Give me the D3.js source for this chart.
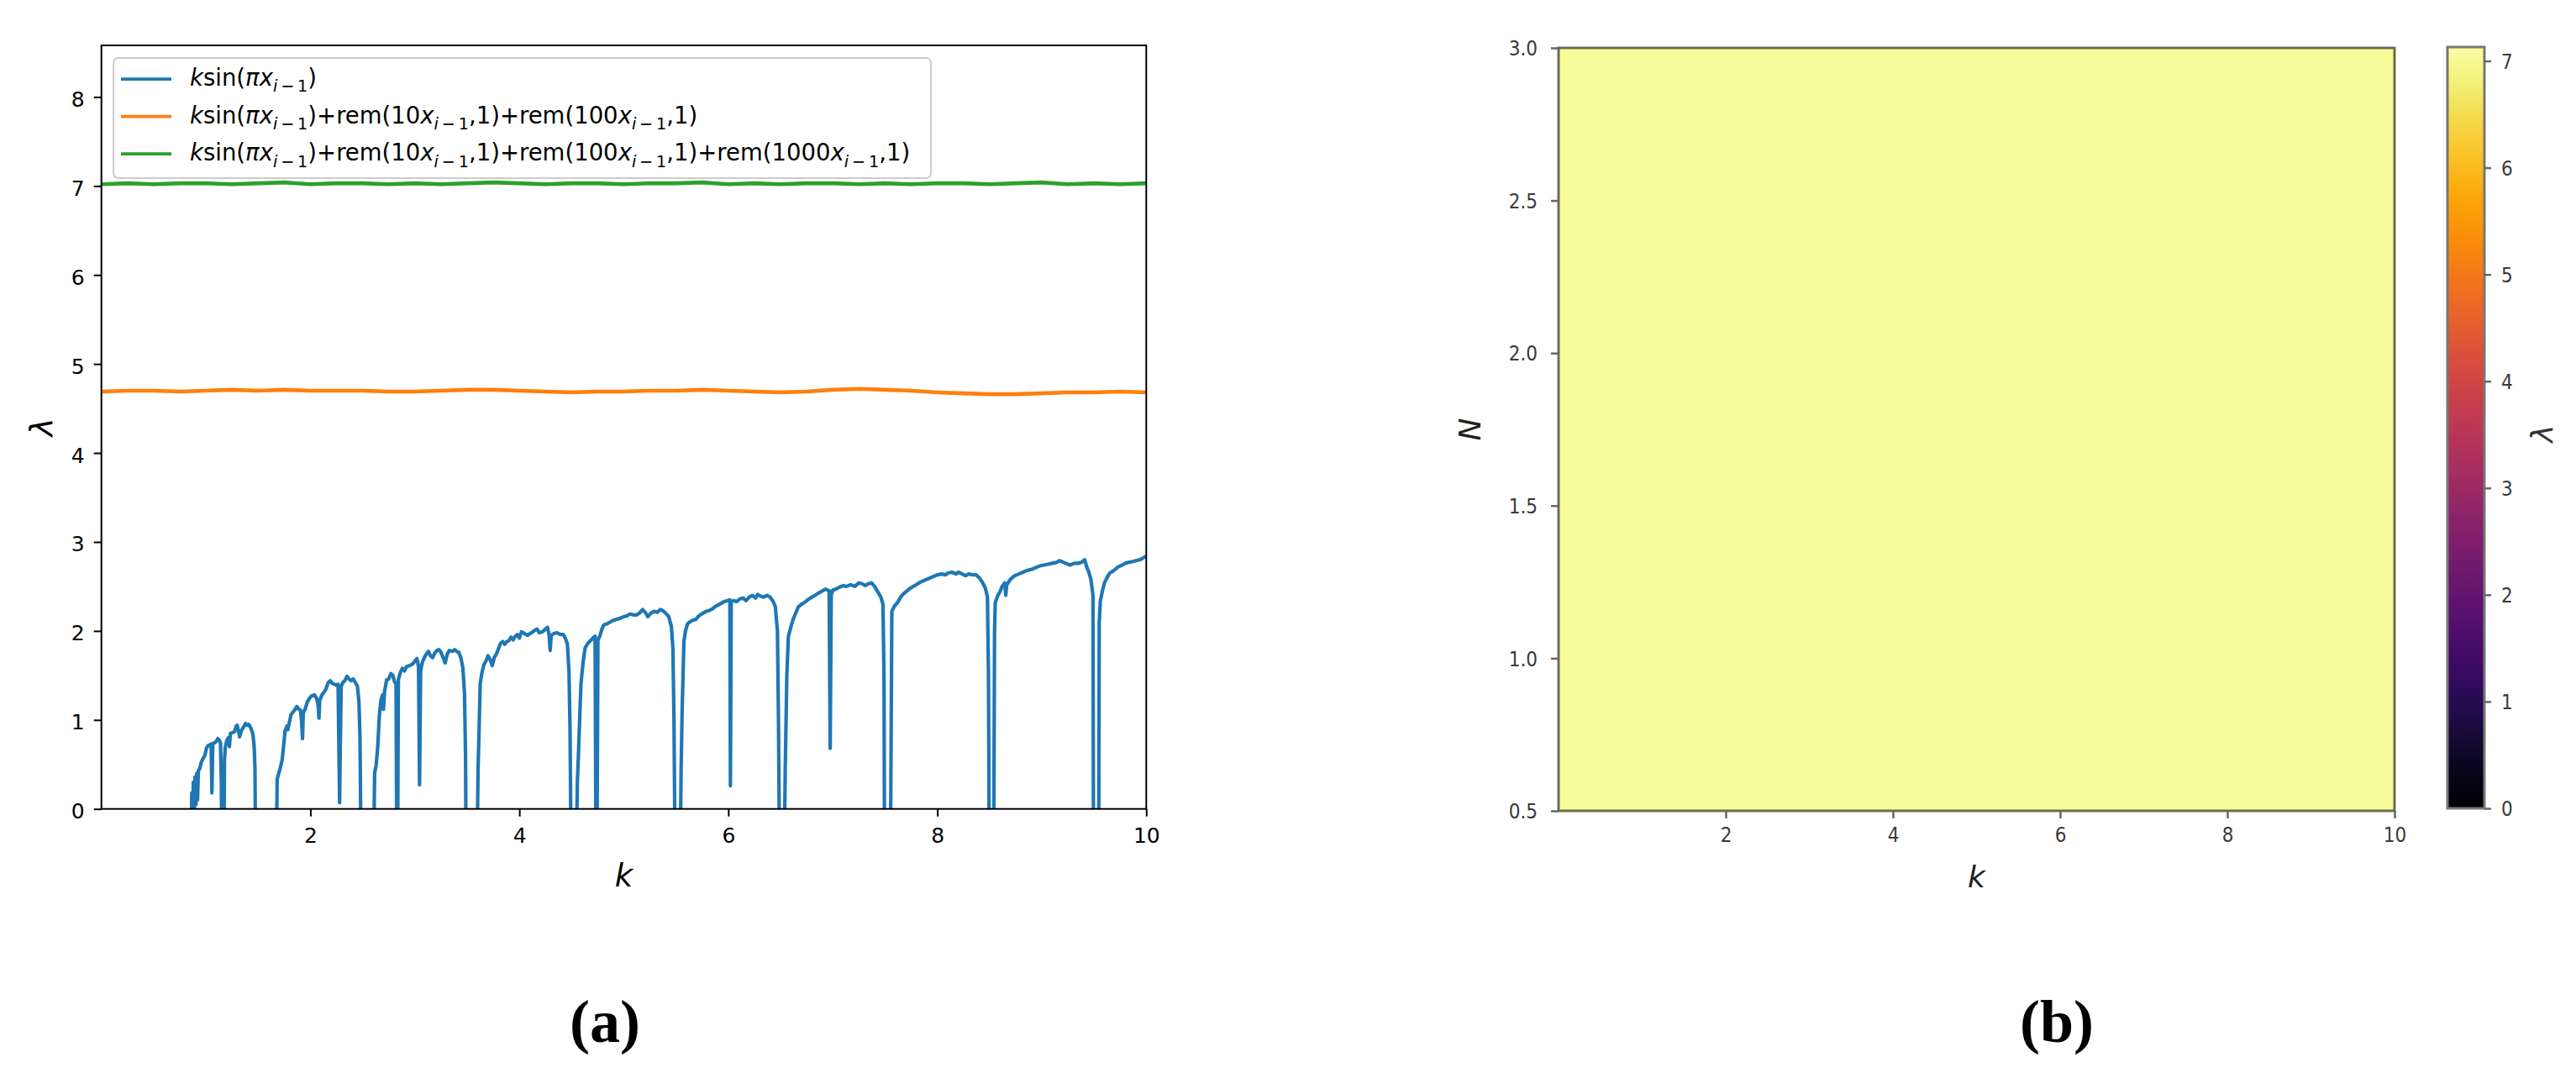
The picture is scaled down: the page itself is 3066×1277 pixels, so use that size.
<!DOCTYPE html>
<html><head><meta charset="utf-8">
<script src="https://cdn.jsdelivr.net/npm/d3@7"></script>
<style>body{margin:0;background:#fff} svg{display:block}</style>
</head><body>
<script>
// ---------------- data ----------------
const xTicksA = [2, 4, 6, 8, 10];
const yTicksA = [0, 1, 2, 3, 4, 5, 6, 7, 8];
const seriesNames = [
  "ksin(πx_{i−1})",
  "ksin(πx_{i−1})+rem(10x_{i−1},1)+rem(100x_{i−1},1)",
  "ksin(πx_{i−1})+rem(10x_{i−1},1)+rem(100x_{i−1},1)+rem(1000x_{i−1},1)"
];
const seriesColors = ["#1f77b4", "#ff7f0e", "#2ca02c"];

// blue series: [k, lambda]; negative values lie below the axis (clipped)
const blueSeries = [
  [0.01,-1.5],[0.86,-0.3],
  [0.865,0.18],[0.872,-0.2],[0.88,0.30],[0.888,-0.2],[0.895,0.36],[0.905,0.05],[0.912,0.40],[0.92,0.1],[0.928,0.43],[0.94,0.45],[0.955,0.52],[0.97,0.56],[0.99,0.60],[1.005,0.68],[1.02,0.71],[1.04,0.72],[1.05,0.73],[1.058,0.18],[1.066,0.73],[1.08,0.74],[1.10,0.76],[1.115,0.79],[1.13,0.77],[1.14,0.74],[1.148,0.3],[1.152,-0.5],[1.172,-0.5],[1.178,0.55],[1.185,0.69],[1.20,0.77],[1.215,0.80],[1.225,0.70],[1.235,0.85],[1.26,0.86],[1.275,0.87],[1.29,0.93],[1.30,0.94],[1.315,0.86],[1.322,0.81],[1.34,0.88],[1.36,0.92],[1.38,0.96],[1.395,0.94],[1.41,0.95],[1.43,0.91],[1.45,0.84],[1.462,0.70],[1.47,0.45],[1.475,-0.5],
  [1.675,-0.5],[1.682,0.33],[1.69,0.37],[1.71,0.45],[1.73,0.55],[1.745,0.72],[1.757,0.87],[1.775,0.93],[1.785,0.89],[1.80,0.98],[1.815,1.06],[1.835,1.09],[1.855,1.12],[1.87,1.15],[1.89,1.12],[1.905,1.11],[1.915,1.0],[1.925,0.79],[1.932,1.08],[1.95,1.12],[1.97,1.20],[1.99,1.24],[2.01,1.27],[2.04,1.28],[2.06,1.24],[2.075,1.16],[2.082,1.02],[2.09,1.22],[2.11,1.28],[2.13,1.31],[2.15,1.35],[2.17,1.42],[2.19,1.44],[2.21,1.41],[2.23,1.40],[2.25,1.39],[2.265,1.40],[2.275,0.5],[2.28,0.07],[2.285,0.6],[2.295,1.38],[2.31,1.42],[2.33,1.44],[2.35,1.49],[2.37,1.46],[2.39,1.44],[2.41,1.46],[2.43,1.42],[2.45,1.38],[2.465,1.2],[2.475,0.8],[2.485,-0.5],
  [2.605,-0.5],[2.615,0.40],[2.63,0.50],[2.645,0.70],[2.66,1.05],[2.675,1.22],[2.69,1.28],[2.70,1.12],[2.71,1.32],[2.73,1.45],[2.75,1.46],[2.77,1.52],[2.79,1.50],[2.805,1.43],[2.82,1.40],[2.827,-0.5],[2.835,-0.5],[2.842,1.45],[2.86,1.53],[2.88,1.58],[2.90,1.55],[2.92,1.60],[2.95,1.61],[2.98,1.63],[3.00,1.66],[3.02,1.69],[3.035,1.6],[3.045,0.27],[3.055,1.55],[3.07,1.64],[3.09,1.70],[3.11,1.74],[3.13,1.77],[3.15,1.72],[3.17,1.70],[3.19,1.75],[3.21,1.78],[3.23,1.79],[3.25,1.76],[3.27,1.70],[3.29,1.64],[3.31,1.74],[3.33,1.78],[3.36,1.77],[3.38,1.79],[3.40,1.77],[3.42,1.76],[3.44,1.70],[3.46,1.58],[3.475,1.3],[3.485,0.6],[3.49,-0.5],
  [3.595,-0.5],[3.605,0.45],[3.615,0.9],[3.625,1.40],[3.64,1.52],[3.66,1.62],[3.68,1.66],[3.70,1.72],[3.72,1.68],[3.74,1.61],[3.76,1.70],[3.78,1.74],[3.80,1.80],[3.82,1.86],[3.84,1.88],[3.86,1.85],[3.88,1.88],[3.90,1.89],[3.92,1.93],[3.94,1.90],[3.96,1.94],[3.98,1.96],[4.00,1.92],[4.02,1.99],[4.05,1.97],[4.08,1.95],[4.10,1.97],[4.13,1.99],[4.15,2.01],[4.17,2.02],[4.19,1.98],[4.22,1.99],[4.24,2.01],[4.27,2.04],[4.285,1.95],[4.295,1.78],[4.305,1.95],[4.33,1.97],[4.36,1.98],[4.39,1.96],[4.42,1.96],[4.44,1.92],[4.46,1.85],[4.475,1.55],[4.485,0.9],[4.495,-0.5],
  [4.545,-0.5],[4.555,0.3],[4.565,0.59],[4.58,1.1],[4.59,1.41],[4.61,1.65],[4.63,1.81],[4.65,1.85],[4.67,1.88],[4.69,1.90],[4.71,1.93],[4.725,1.94],[4.733,-0.5],[4.743,-0.5],[4.752,1.90],[4.77,1.94],[4.79,2.02],[4.81,2.07],[4.84,2.08],[4.87,2.10],[4.90,2.12],[4.93,2.13],[4.96,2.14],[5.00,2.16],[5.03,2.17],[5.06,2.19],[5.09,2.18],[5.12,2.18],[5.15,2.20],[5.18,2.24],[5.21,2.20],[5.23,2.16],[5.26,2.20],[5.29,2.22],[5.32,2.21],[5.35,2.24],[5.37,2.23],[5.40,2.20],[5.43,2.16],[5.455,2.05],[5.47,1.8],[5.48,1.0],[5.49,-0.5],
  [5.54,-0.5],[5.548,0.43],[5.558,1.1],[5.575,1.88],[5.59,2.00],[5.61,2.08],[5.63,2.10],[5.66,2.12],[5.69,2.13],[5.71,2.16],[5.73,2.18],[5.76,2.20],[5.79,2.22],[5.82,2.23],[5.85,2.25],[5.87,2.27],[5.90,2.29],[5.93,2.31],[5.96,2.33],[5.99,2.34],[6.015,2.35],[6.02,0.26],[6.028,2.33],[6.05,2.34],[6.08,2.33],[6.11,2.36],[6.14,2.37],[6.17,2.34],[6.20,2.38],[6.23,2.40],[6.26,2.37],[6.28,2.41],[6.31,2.39],[6.34,2.38],[6.37,2.40],[6.40,2.38],[6.43,2.33],[6.45,2.27],[6.47,2.0],[6.48,1.0],[6.49,-0.5],
  [6.535,-0.5],[6.545,0.46],[6.56,1.5],[6.575,1.94],[6.60,2.05],[6.62,2.13],[6.645,2.20],[6.67,2.27],[6.70,2.30],[6.73,2.32],[6.76,2.35],[6.80,2.38],[6.83,2.40],[6.87,2.43],[6.90,2.45],[6.93,2.47],[6.965,2.45],[6.975,0.68],[6.985,2.40],[7.00,2.46],[7.03,2.47],[7.06,2.49],[7.10,2.51],[7.13,2.50],[7.17,2.52],[7.21,2.50],[7.25,2.54],[7.28,2.53],[7.31,2.51],[7.34,2.53],[7.37,2.54],[7.40,2.50],[7.43,2.44],[7.46,2.38],[7.48,2.30],[7.49,1.5],[7.495,-0.5],
  [7.545,-0.5],[7.555,0.1],[7.565,2.22],[7.59,2.28],[7.62,2.32],[7.65,2.38],[7.67,2.41],[7.70,2.44],[7.73,2.47],[7.77,2.50],[7.80,2.52],[7.84,2.55],[7.88,2.57],[7.92,2.59],[7.96,2.61],[8.00,2.63],[8.04,2.64],[8.08,2.63],[8.10,2.65],[8.14,2.66],[8.18,2.64],[8.20,2.66],[8.24,2.64],[8.27,2.62],[8.30,2.64],[8.34,2.63],[8.37,2.63],[8.40,2.60],[8.43,2.55],[8.46,2.48],[8.48,2.38],[8.49,1.5],[8.497,-0.5],
  [8.54,-0.5],[8.548,2.0],[8.555,2.32],[8.58,2.40],[8.60,2.44],[8.62,2.50],[8.645,2.54],[8.655,2.40],[8.665,2.52],[8.70,2.58],[8.74,2.62],[8.78,2.64],[8.82,2.66],[8.86,2.68],[8.90,2.69],[8.94,2.71],[8.98,2.73],[9.02,2.74],[9.06,2.75],[9.10,2.76],[9.14,2.77],[9.17,2.79],[9.21,2.77],[9.25,2.75],[9.27,2.74],[9.31,2.76],[9.35,2.76],[9.38,2.77],[9.41,2.80],[9.43,2.72],[9.45,2.66],[9.47,2.58],[9.49,2.4],[9.495,-0.5],
  [9.545,-0.5],[9.55,2.1],[9.56,2.33],[9.58,2.45],[9.60,2.54],[9.625,2.60],[9.65,2.65],[9.68,2.67],[9.70,2.69],[9.73,2.72],[9.77,2.74],[9.80,2.76],[9.83,2.77],[9.87,2.78],[9.90,2.79],[9.94,2.80],[9.97,2.82],[10.0,2.84]
];

const lineK = [0,0.25,0.5,0.75,1,1.25,1.5,1.75,2,2.25,2.5,2.75,3,3.25,3.5,3.75,4,4.25,4.5,4.75,5,5.25,5.5,5.75,6,6.25,6.5,6.75,7,7.25,7.5,7.75,8,8.25,8.5,8.75,9,9.25,9.5,9.75,10];
const orangeL = [4.69,4.70,4.70,4.69,4.70,4.71,4.70,4.71,4.70,4.70,4.70,4.69,4.69,4.70,4.71,4.71,4.70,4.69,4.68,4.69,4.69,4.70,4.70,4.71,4.70,4.69,4.68,4.69,4.71,4.72,4.71,4.70,4.68,4.67,4.66,4.66,4.67,4.68,4.68,4.69,4.68];
const greenL  = [7.02,7.03,7.02,7.03,7.03,7.02,7.03,7.04,7.02,7.03,7.03,7.02,7.03,7.02,7.03,7.04,7.03,7.02,7.03,7.03,7.02,7.03,7.03,7.04,7.02,7.03,7.02,7.03,7.03,7.02,7.03,7.02,7.03,7.03,7.02,7.03,7.04,7.02,7.03,7.02,7.03];

const heatKEdges = [0,1,2,3,4,5,6,7,8,9,10];
const heatNEdges = [0.5,1.0,1.5,2.0,2.5,3.0];
const heatValues = [
  [7.02,7.03,7.02,7.03,7.02,7.03,7.02,7.03,7.03,7.02],
  [7.03,7.02,7.03,7.02,7.03,7.02,7.03,7.02,7.02,7.03],
  [7.02,7.03,7.03,7.02,7.02,7.03,7.02,7.03,7.03,7.02],
  [7.03,7.02,7.02,7.03,7.03,7.02,7.03,7.02,7.02,7.03],
  [7.02,7.03,7.03,7.02,7.03,7.02,7.02,7.03,7.03,7.02]
];
const xTicksB = [2, 4, 6, 8, 10];
const yTicksB = [0.5, 1.0, 1.5, 2.0, 2.5, 3.0];
const cbarTicks = [0, 1, 2, 3, 4, 5, 6, 7];
const captions = ["(a)", "(b)"];

// ---------------- drawing ----------------
const W = 3066, H = 1277;
const svg = d3.select("body").append("svg").attr("width", W).attr("height", H)
  .style("font-family", "'DejaVu Sans', sans-serif");
svg.append("rect").attr("width", W).attr("height", H).attr("fill", "#fff");

// ---- panel (a) ----
const xA = d3.scaleLinear().domain([0, 10]).range([120.7, 1364.3]);
const yA = d3.scaleLinear().domain([0, 8.58]).range([962.7, 54]);
const gA = svg.append("g");
const defs = svg.append("defs");
defs.append("clipPath").attr("id", "clipA").append("rect")
  .attr("x", xA(0)).attr("y", yA(8.58)).attr("width", xA(10) - xA(0)).attr("height", yA(0) - yA(8.58));

const line = d3.line().x(d => xA(d[0])).y(d => yA(d[1]));
const lines = gA.append("g").attr("clip-path", "url(#clipA)");
lines.append("path").datum(blueSeries).attr("d", line)
  .attr("fill", "none").attr("stroke", seriesColors[0]).attr("stroke-width", 4.2).attr("stroke-linejoin", "round");
lines.append("path").datum(lineK.map((k, i) => [k, orangeL[i]])).attr("d", line)
  .attr("fill", "none").attr("stroke", seriesColors[1]).attr("stroke-width", 4.6).attr("stroke-linejoin", "round");
lines.append("path").datum(lineK.map((k, i) => [k, greenL[i]])).attr("d", line)
  .attr("fill", "none").attr("stroke", seriesColors[2]).attr("stroke-width", 4.6).attr("stroke-linejoin", "round");

// axes
const axBA = gA.append("g").attr("transform", `translate(0,${yA(0)})`)
  .call(d3.axisBottom(xA).tickValues(xTicksA).tickSize(9).tickSizeOuter(0).tickPadding(12).tickFormat(d3.format("d")));
const axLA = gA.append("g").attr("transform", `translate(${xA(0)},0)`)
  .call(d3.axisLeft(yA).tickValues(yTicksA).tickSize(9).tickSizeOuter(0).tickPadding(11).tickFormat(d3.format("d")));
[axBA, axLA].forEach(a => {
  a.select(".domain").remove();
  a.selectAll("line").attr("stroke", "#000").attr("stroke-width", 2);
  a.selectAll("text").attr("font-size", 25).attr("fill", "#000").attr("font-family", "'DejaVu Sans', sans-serif");
});
axLA.selectAll("text").attr("dy", "0.44em");
axBA.selectAll("text").attr("dy", "0.76em");
gA.append("rect").attr("x", xA(0)).attr("y", yA(8.58)).attr("width", xA(10) - xA(0)).attr("height", yA(0) - yA(8.58))
  .attr("fill", "none").attr("stroke", "#000").attr("stroke-width", 2);

gA.append("text").attr("x", (xA(0) + xA(10)) / 2).attr("y", 1055).attr("text-anchor", "middle")
  .attr("font-size", 37).attr("font-style", "italic").text("k");
gA.append("text").attr("transform", `translate(62,${(yA(0) + yA(8.58)) / 2}) rotate(-90)`).attr("text-anchor", "middle")
  .attr("font-size", 37).attr("font-style", "italic").text("λ");

// math-ish text renderer
function mathText(parent, str, x, y, size) {
  const t = parent.append("text").attr("x", x).attr("y", y).attr("font-size", size).attr("fill", "#000");
  let pendingDy = 0;
  const add = (txt, italic, fs) => {
    const s = t.append("tspan").text(txt);
    if (italic) s.attr("font-style", "italic");
    if (fs) s.attr("font-size", fs);
    if (pendingDy) { s.attr("dy", pendingDy); pendingDy = 0; }
    return s;
  };
  let i = 0, buf = "", bufIt = null;
  const flush = () => { if (buf) add(buf, bufIt); buf = ""; };
  while (i < str.length) {
    if (str.startsWith("_{", i)) {
      flush();
      const end = str.indexOf("}", i);
      const sub = str.slice(i + 2, end);
      const subSize = size * 0.7;
      pendingDy = size * 0.27;
      add(sub[0], true, subSize);
      add(sub.slice(1).replace("−", "\u2009−\u2009"), false, subSize);
      pendingDy = -size * 0.27;
      i = end + 1;
      continue;
    }
    const c = str[i];
    const it = /[kπx]/.test(c);
    if (bufIt !== it) { flush(); bufIt = it; }
    buf += c;
    i++;
  }
  flush();
  return t;
}

// legend
const leg = gA.append("g");
leg.append("rect").attr("x", 135).attr("y", 69).attr("width", 973).attr("height", 143).attr("rx", 6)
  .attr("fill", "#fff").attr("fill-opacity", 0.8).attr("stroke", "#cccccc").attr("stroke-width", 2);
seriesNames.forEach((name, i) => {
  const cy = 94 + i * 44.6;
  leg.append("line").attr("x1", 144).attr("x2", 204).attr("y1", cy).attr("y2", cy)
    .attr("stroke", seriesColors[i]).attr("stroke-width", 3.75);
  mathText(leg, name, 226, cy + 8, 27.5);
});

// ---- panel (b) ----
const xB = d3.scaleLinear().domain([0, 10]).range([1855, 2850]);
const yB = d3.scaleLinear().domain([0.5, 3.0]).range([965, 57]);
const cmax = 7.13;
const color = d3.scaleSequential(d3.interpolateInferno).domain([0, cmax]);
const gB = svg.append("g");
const cells = [];
heatValues.forEach((row, r) => row.forEach((v, c) => cells.push({ r, c, v })));
gB.append("g").selectAll("rect").data(cells).join("rect")
  .attr("x", d => xB(heatKEdges[d.c]))
  .attr("y", d => yB(heatNEdges[d.r + 1]))
  .attr("width", d => xB(heatKEdges[d.c + 1]) - xB(heatKEdges[d.c]) + 0.5)
  .attr("height", d => yB(heatNEdges[d.r]) - yB(heatNEdges[d.r + 1]) + 0.5)
  .attr("fill", d => color(d.v));

const frameCol = "rgba(30,30,20,0.65)";
const txtCol = "#3a3a3a";
gB.append("rect").attr("x", xB(0)).attr("y", yB(3)).attr("width", xB(10) - xB(0)).attr("height", yB(0.5) - yB(3))
  .attr("fill", "none").attr("stroke", frameCol).attr("stroke-width", 3);

const axBB = gB.append("g").attr("transform", `translate(0,${yB(0.5)})`)
  .call(d3.axisBottom(xB).tickValues(xTicksB).tickSize(9).tickSizeOuter(0).tickPadding(10).tickFormat(d3.format("d")));
const axLB = gB.append("g").attr("transform", `translate(${xB(0)},0)`)
  .call(d3.axisLeft(yB).tickValues(yTicksB).tickSize(9).tickSizeOuter(0).tickPadding(16).tickFormat(d3.format(".1f")));
[axBB, axLB].forEach(a => {
  a.select(".domain").remove();
  a.selectAll("line").attr("stroke", "#666").attr("stroke-width", 2.5);
  a.selectAll("text").attr("font-size", 24).attr("fill", txtCol).attr("font-family", "'DejaVu Sans', sans-serif")
    .attr("font-stretch", "condensed");
});
axLB.selectAll("text").attr("dy", "0.36em");
axBB.selectAll("text").attr("dy", "0.76em");

gB.append("text").attr("x", (xB(0) + xB(10)) / 2).attr("y", 1056).attr("text-anchor", "middle")
  .attr("font-size", 36).attr("font-style", "italic").attr("fill", "#222").text("k");
gB.append("text").attr("transform", `translate(1762,${(yB(0.5) + yB(3)) / 2}) rotate(-90)`).attr("text-anchor", "middle")
  .attr("font-size", 36).attr("font-style", "italic").attr("fill", "#222").text("N");

// colorbar
const cb = d3.scaleLinear().domain([0, cmax]).range([962, 56]);
const grad = defs.append("linearGradient").attr("id", "cbGrad").attr("x1", 0).attr("x2", 0).attr("y1", 1).attr("y2", 0);
d3.range(0, 1.0001, 0.05).forEach(t => grad.append("stop").attr("offset", t).attr("stop-color", d3.interpolateInferno(t)));
gB.append("rect").attr("x", 2913).attr("y", cb(cmax)).attr("width", 44).attr("height", cb(0) - cb(cmax))
  .attr("fill", "url(#cbGrad)").attr("stroke", "#777").attr("stroke-width", 3);
const axCB = gB.append("g").attr("transform", "translate(2957,0)")
  .call(d3.axisRight(cb).tickValues(cbarTicks).tickSize(8).tickSizeOuter(0).tickPadding(12).tickFormat(d3.format("d")));
axCB.select(".domain").remove();
axCB.selectAll("line").attr("stroke", "#666").attr("stroke-width", 2.5);
axCB.selectAll("text").attr("font-size", 24).attr("fill", txtCol).attr("dy", "0.36em")
  .attr("font-family", "'DejaVu Sans', sans-serif").attr("font-stretch", "condensed");
gB.append("text").attr("transform", `translate(3038,516) rotate(-90)`).attr("text-anchor", "middle")
  .attr("font-size", 36).attr("font-style", "italic").attr("fill", "#333").text("λ");

// captions
[[720, captions[0]], [2448, captions[1]]].forEach(([x, c]) => {
  svg.append("text").attr("x", x).attr("y", 1240).attr("text-anchor", "middle")
    .attr("font-family", "'Liberation Serif', 'Times New Roman', serif").attr("font-weight", "bold")
    .attr("font-size", 72).attr("fill", "#000").text(c);
});
</script>
</body></html>
